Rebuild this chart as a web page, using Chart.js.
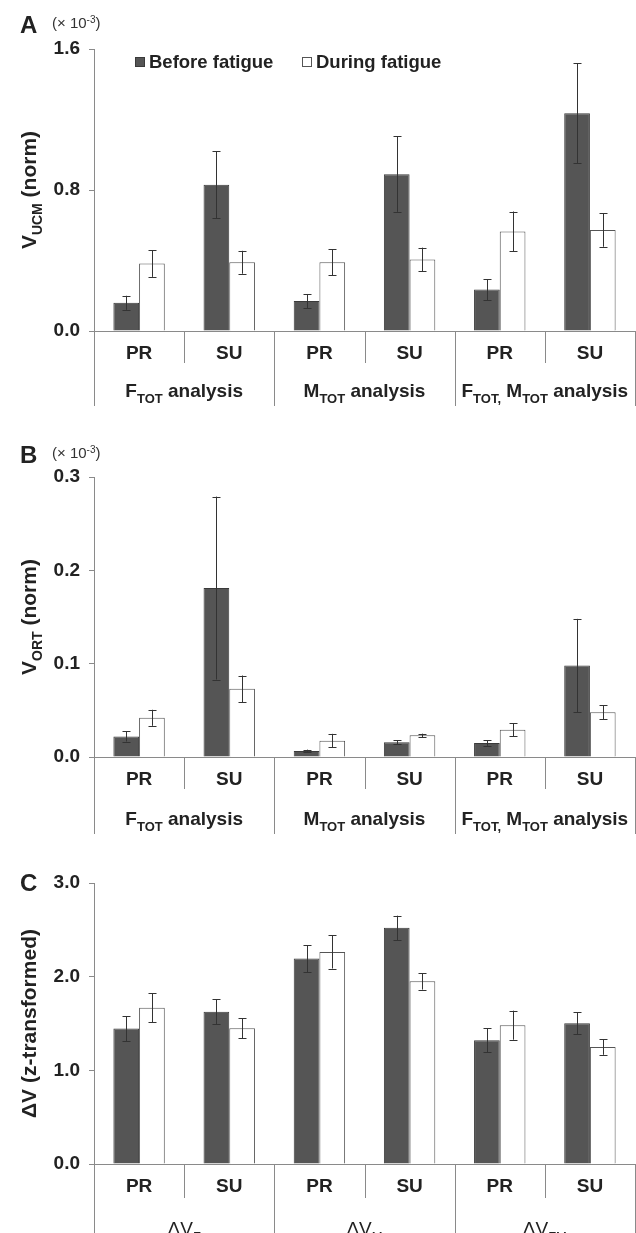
<!DOCTYPE html>
<html>
<head>
<meta charset="utf-8">
<script src="https://cdn.jsdelivr.net/npm/chart.js@4.4.1/dist/chart.umd.min.js"></script>
<style>
  html, body { margin: 0; padding: 0; background: #fff; }
  .panel { position: absolute; left: 0; width: 636px; }
</style>
</head>
<body>
<div class="panel" style="top:0;height:410px"><canvas id="panelA"></canvas></div>
<div class="panel" style="top:410px;height:426px"><canvas id="panelB"></canvas></div>
<div class="panel" style="top:836px;height:397px"><canvas id="panelC"></canvas></div>
<script>
// Three grouped bar panels (before / during fatigue) with SE whiskers.

const categories = ["PR", "SU", "PR", "SU", "PR", "SU"];
const seriesNames = ["Before fatigue", "During fatigue"];

// A: V_UCM (x 10^-3)
const ucmBefore = [0.16, 0.83, 0.17, 0.89, 0.235, 1.236];
const ucmBeforeErr = [0.04, 0.19, 0.04, 0.214, 0.059, 0.284];
const ucmDuring = [0.383, 0.39, 0.39, 0.406, 0.565, 0.573];
const ucmDuringErr = [0.076, 0.065, 0.075, 0.067, 0.113, 0.095];
const ucmTicks = [0, 0.8, 1.6];

// B: V_ORT (x 10^-3)
const ortBefore = [0.022, 0.181, 0.0064, 0.0157, 0.015, 0.098];
const ortBeforeErr = [0.0054, 0.098, 0.0015, 0.0022, 0.003, 0.05];
const ortDuring = [0.042, 0.073, 0.0175, 0.0232, 0.0293, 0.048];
const ortDuringErr = [0.0086, 0.0143, 0.0073, 0.0018, 0.0068, 0.0075];
const ortTicks = [0, 0.1, 0.2, 0.3];

// C: delta V (z-transformed)
const dvBefore = [1.446, 1.625, 2.193, 2.521, 1.321, 1.504];
const dvBeforeErr = [0.134, 0.134, 0.143, 0.13, 0.128, 0.116];
const dvDuring = [1.668, 1.45, 2.264, 1.95, 1.482, 1.25];
const dvDuringErr = [0.157, 0.107, 0.177, 0.088, 0.155, 0.084];
const dvTicks = [0, 1, 2, 3];

// rich-text labels: [text, 0 normal | 1 subscript | 2 superscript]
const analysisGroups = [
  [["F", 0], ["TOT", 1], [" analysis", 0]],
  [["M", 0], ["TOT", 1], [" analysis", 0]],
  [["F", 0], ["TOT,", 1], [" M", 0], ["TOT", 1], [" analysis", 0]],
];
const deltaGroups = [
  [["\u0394V", 0], ["F", 1]],
  [["\u0394V", 0], ["M", 1]],
  [["\u0394V", 0], ["FM", 1]],
];
const titleUcm = [["V", 0], ["UCM", 1], [" (norm)", 0]];
const titleOrt = [["V", 0], ["ORT", 1], [" (norm)", 0]];
const titleDv = [["\u0394V (z-transformed)", 0]];
const exponentNote = [["(\u00d7 10", 0], ["-3", 2], [")", 0]];

const FONT = '"Liberation Sans", Arial, Helvetica, sans-serif';
const INK = "#222";
const AXIS = "#8a8a8a";
const DARK = "#555555";

// layout per canvas (canvas-local pixels)
const PANELS = {
  panelA: { letter: "A", letterY: 25, exp: true, top: 49, bottom: 331, title: titleUcm,
            groups: analysisGroups, groupBold: true, groupY: 390, shortBottom: 363, longBottom: 406, legend: true },
  panelB: { letter: "B", letterY: 45, exp: true, top: 67, bottom: 347, title: titleOrt,
            groups: analysisGroups, groupBold: true, groupY: 408, shortBottom: 379, longBottom: 424, legend: false },
  panelC: { letter: "C", letterY: 47, exp: false, top: 47, bottom: 328, title: titleDv,
            groups: deltaGroups, groupBold: false, groupY: 392, shortBottom: 362, longBottom: 397, legend: false },
};

function drawRich(ctx, parts, x, cy, size, weight, align) {
  const small = Math.round(size * 0.66);
  const fontFor = (k) => `${weight} ${k ? small : size}px ${FONT}`;
  const widths = parts.map(([t, k]) => { ctx.font = fontFor(k); return ctx.measureText(t).width; });
  const total = widths.reduce((a, b) => a + b, 0);
  let cx = align === "center" ? x - total / 2 : x;
  const base = cy + size * 0.36;
  ctx.textAlign = "left";
  ctx.textBaseline = "alphabetic";
  parts.forEach(([t, k], i) => {
    ctx.font = fontFor(k);
    const dy = k === 1 ? size * 0.3 : k === 2 ? -size * 0.38 : 0;
    ctx.fillText(t, cx, base + dy);
    cx += widths[i];
  });
}

const errorBars = {
  id: "errorBars",
  afterDatasetsDraw(chart) {
    const { ctx, scales } = chart;
    ctx.save();
    ctx.strokeStyle = "#333";
    ctx.lineWidth = 1;
    chart.data.datasets.forEach((ds, d) => {
      const meta = chart.getDatasetMeta(d);
      meta.data.forEach((bar, i) => {
        const v = ds.data[i], e = ds.errors[i];
        const x = Math.round(bar.x) + 0.5;
        const yHi = scales.y.getPixelForValue(v + e);
        const yLo = scales.y.getPixelForValue(Math.max(0, v - e));
        ctx.beginPath();
        ctx.moveTo(x, yHi); ctx.lineTo(x, yLo);
        ctx.moveTo(x - 4, Math.round(yHi) + 0.5); ctx.lineTo(x + 4, Math.round(yHi) + 0.5);
        ctx.moveTo(x - 4, Math.round(yLo) + 0.5); ctx.lineTo(x + 4, Math.round(yLo) + 0.5);
        ctx.stroke();
      });
    });
    ctx.restore();
  }
};

const panelDecor = {
  id: "panelDecor",
  afterDraw(chart) {
    const p = PANELS[chart.canvas.id];
    if (!p) return;
    const { ctx, chartArea, scales } = chart;
    const xs = scales.x;
    const y0 = scales.y.getPixelForValue(0);
    const step = xs.getPixelForValue(1) - xs.getPixelForValue(0);
    const start = xs.getPixelForValue(0) - step / 2;
    ctx.save();
    ctx.fillStyle = INK;

    // category separators below the axis
    ctx.strokeStyle = AXIS;
    ctx.lineWidth = 1;
    ctx.beginPath();
    for (let i = 0; i <= categories.length; i++) {
      const x = Math.round(start + i * step) + 0.5;
      ctx.moveTo(x, y0);
      ctx.lineTo(x, i % 2 === 0 ? p.longBottom : p.shortBottom);
    }
    ctx.stroke();

    // group labels
    p.groups.forEach((g, gi) => {
      drawRich(ctx, g, start + (2 * gi + 1) * step, p.groupY, 19, p.groupBold ? "bold" : "normal", "center");
    });

    // panel letter + exponent note
    ctx.font = `bold 24px ${FONT}`;
    ctx.textAlign = "left";
    ctx.textBaseline = "middle";
    ctx.fillText(p.letter, 20, p.letterY + 1);
    if (p.exp) {
      ctx.fillStyle = "#333";
      drawRich(ctx, exponentNote, 52, p.letterY - 2, 15, "normal", "left");
      ctx.fillStyle = INK;
    }

    // rotated y title
    ctx.save();
    ctx.translate(28, (chartArea.top + chartArea.bottom) / 2);
    ctx.rotate(-Math.PI / 2);
    drawRich(ctx, p.title, 0, 0, 21, "bold", "center");
    ctx.restore();

    // legend inside plot (panel A only)
    if (p.legend) {
      const items = [
        { x: 135, fill: DARK, stroke: "#3a3a3a" },
        { x: 302, fill: "#fff", stroke: "#555" },
      ];
      items.forEach((it, k) => {
        ctx.fillStyle = it.fill;
        ctx.strokeStyle = it.stroke;
        ctx.fillRect(it.x, 57, 10, 10);
        ctx.strokeRect(it.x + 0.5, 57.5, 9, 9);
        ctx.fillStyle = INK;
        ctx.font = `bold 18.5px ${FONT}`;
        ctx.textBaseline = "middle";
        ctx.fillText(chart.data.datasets[k].label, it.x + 14, 63);
      });
    }
    ctx.restore();
  }
};

Chart.register(errorBars, panelDecor);

function makePanel(id, before, beforeErr, during, duringErr, ticks) {
  const p = PANELS[id];
  const canvas = document.getElementById(id);
  const h = canvas.parentElement.clientHeight;
  return new Chart(canvas.getContext("2d"), {
    type: "bar",
    data: {
      labels: categories,
      datasets: [
        { label: seriesNames[0], data: before, errors: beforeErr,
          backgroundColor: DARK, borderColor: "#3a3a3a", borderWidth: 1 },
        { label: seriesNames[1], data: during, errors: duringErr,
          backgroundColor: "#ffffff", borderColor: "#555", borderWidth: 1 },
      ],
    },
    options: {
      responsive: true,
      maintainAspectRatio: false,
      animation: false,
      events: [],
      layout: { padding: { top: p.top, right: 1, left: 0, bottom: 0 } },
      datasets: { bar: { categoryPercentage: 0.57, barPercentage: 1 } },
      scales: {
        x: {
          grid: { display: false, drawTicks: false },
          border: { display: true, color: AXIS, width: 1 },
          ticks: { color: INK, padding: 11, font: { family: FONT, size: 19, weight: "bold" } },
          afterFit(s) { s.height = h - p.bottom; },
        },
        y: {
          min: ticks[0],
          max: ticks[ticks.length - 1],
          afterBuildTicks(s) { s.ticks = ticks.map((v) => ({ value: v })); },
          grid: { drawOnChartArea: false, drawTicks: true, tickLength: 5, color: AXIS },
          border: { display: true, color: AXIS, width: 1 },
          ticks: { color: INK, padding: 9, font: { family: FONT, size: 19, weight: "bold" },
                   callback: (v) => Number(v).toFixed(1) },
          afterFit(s) { s.width = 94; },
        },
      },
      plugins: { legend: { display: false }, tooltip: { enabled: false } },
    },
  });
}

makePanel("panelA", ucmBefore, ucmBeforeErr, ucmDuring, ucmDuringErr, ucmTicks);
makePanel("panelB", ortBefore, ortBeforeErr, ortDuring, ortDuringErr, ortTicks);
makePanel("panelC", dvBefore, dvBeforeErr, dvDuring, dvDuringErr, dvTicks);
</script>
</body>
</html>
